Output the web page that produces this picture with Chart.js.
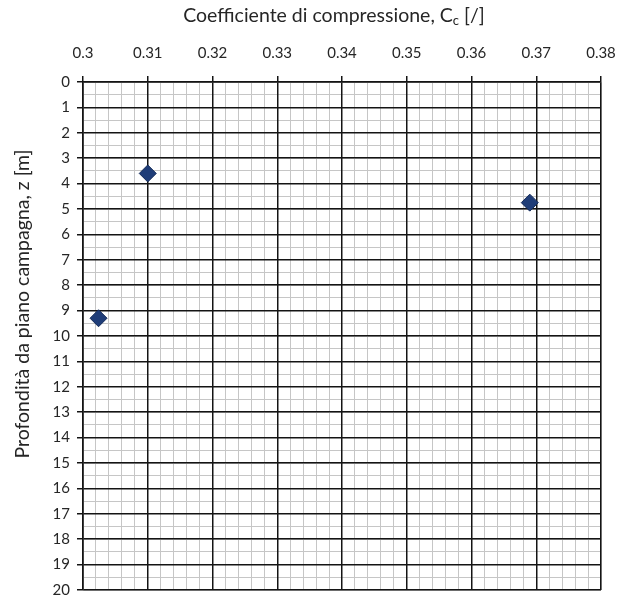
<!DOCTYPE html>
<html lang="it">
<head>
  <meta charset="UTF-8" />
  <title>Coefficiente di compressione</title>
  <script src="https://cdn.jsdelivr.net/npm/chart.js"></script>
  <style>
    html, body { margin: 0; padding: 0; background: #fff; }
  </style>
</head>
<body>

<canvas id="mainChart" width="637" height="606"></canvas>

<script>
  // values
  const ccValues = [0.310, 0.3024, 0.369];
  const depths = [3.6, 9.3, 4.75];

  const xRange = [0.30, 0.38];
  const yRange = [0, 20];
  const xSteps = [0.01, 0.002];   // major, minor
  const ySteps = [1, 0.5];

  const xTitleParts = ['Coefficiente di compressione, C', 'c', ' [/]'];
  const yTitleText = 'Profondità da piano campagna, z [m]';

  const FONT = 'Lato';
  const TEXT = '#262626';
  const MAJOR = '#141414';
  const MINOR = '#c6c6c6';

  const points = ccValues.map((v, i) => ({ x: v, y: depths[i] }));

  // axis titles drawn by hand so the subscript c can be kept
  const titlesPlugin = {
    id: 'titles',
    afterDraw(chart) {
      const ctx = chart.ctx;
      ctx.save();
      ctx.fillStyle = TEXT;
      ctx.textBaseline = 'alphabetic';

      const big = '19.5px ' + FONT, small = '13px ' + FONT;
      ctx.font = big;
      const w1 = ctx.measureText(xTitleParts[0]).width;
      const w3 = ctx.measureText(xTitleParts[2]).width;
      ctx.font = small;
      const w2 = ctx.measureText(xTitleParts[1]).width;
      let x = 334 - (w1 + w2 + w3) / 2;
      const base = 22;
      ctx.textAlign = 'left';
      ctx.font = big;
      ctx.fillText(xTitleParts[0], x, base);
      x += w1;
      ctx.font = small;
      ctx.fillText(xTitleParts[1], x, base + 3);
      x += w2;
      ctx.font = big;
      ctx.fillText(xTitleParts[2], x, base);

      ctx.translate(29, 304);
      ctx.rotate(-Math.PI / 2);
      ctx.textAlign = 'center';
      ctx.font = big;
      ctx.fillText(yTitleText, 0, 0);
      ctx.restore();
    }
  };

  const isMajor = (v, step) => Math.abs(v / step - Math.round(v / step)) < 1e-6;

  new Chart(document.getElementById('mainChart'), {
    type: 'scatter',
    data: {
      datasets: [{
        data: points,
        xAxisID: 'x',
        yAxisID: 'y',
        pointStyle: 'rectRot',
        pointRadius: 8.5,
        pointHoverRadius: 8.5,
        backgroundColor: '#1f3d78',
        borderColor: '#132a58',
        borderWidth: 1
      }]
    },
    options: {
      responsive: false,
      animation: false,
      layout: { padding: { top: 30, right: 36, bottom: 12, left: 0 } },
      plugins: { legend: { display: false }, tooltip: { enabled: false } },
      scales: {
        xMinor: {
          type: 'linear', position: 'top',
          min: xRange[0], max: xRange[1],
          ticks: { display: false, stepSize: xSteps[1], autoSkip: false },
          grid: { color: MINOR, lineWidth: 1, drawTicks: false, z: -2 },
          border: { display: false },
          afterFit(s) { s.height = 0; }
        },
        yMinor: {
          type: 'linear', position: 'left', reverse: true,
          min: yRange[0], max: yRange[1],
          ticks: { display: false, stepSize: ySteps[1], autoSkip: false },
          grid: { color: MINOR, lineWidth: 1, drawTicks: false, z: -2 },
          border: { display: false },
          afterFit(s) { s.width = 0; }
        },
        x: {
          type: 'linear', position: 'top',
          min: xRange[0], max: xRange[1],
          ticks: {
            stepSize: xSteps[0], autoSkip: false, maxRotation: 0,
            color: TEXT, font: { family: FONT, size: 15 }, padding: 14,
            callback: v => parseFloat(v.toFixed(2)).toString()
          },
          grid: { color: MAJOR, lineWidth: 1.5, tickLength: 6, tickColor: MAJOR },
          border: { color: MAJOR, width: 1.5 },
          afterFit(s) { s.height = 52; }
        },
        y: {
          type: 'linear', position: 'left', reverse: true,
          min: yRange[0], max: yRange[1],
          ticks: {
            stepSize: ySteps[0], autoSkip: false,
            color: TEXT, font: { family: FONT, size: 15 }, padding: 7,
            callback: v => isMajor(v, ySteps[0]) ? String(Math.round(v)) : ''
          },
          grid: { color: MAJOR, lineWidth: 1.5, tickLength: 6, tickColor: MAJOR },
          border: { color: MAJOR, width: 1.5 },
          afterFit(s) { s.width = 83; }
        }
      }
    },
    plugins: [titlesPlugin]
  });
</script>

</body>
</html>
